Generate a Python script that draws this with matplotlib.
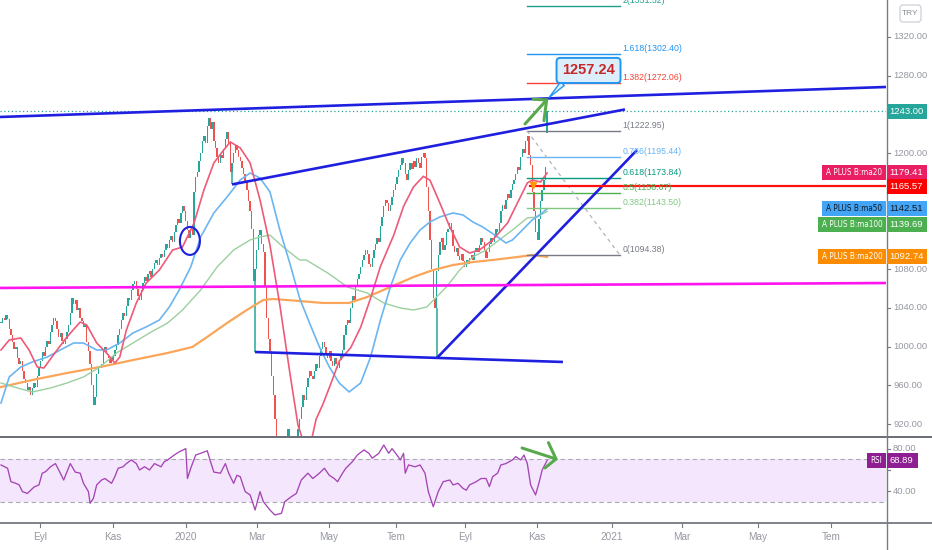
import numpy as np
import matplotlib
matplotlib.use('Agg')
import matplotlib.pyplot as plt
from matplotlib.patches import Rectangle, Ellipse, FancyBboxPatch
from matplotlib.lines import Line2D
from matplotlib.transforms import IdentityTransform
from matplotlib import font_manager as fm

plt.rcParams['font.family'] = ['Liberation Sans', 'DejaVu Sans']

# condensed face for the axis tags, if the system has one
_cond = [f for f in fm.fontManager.ttflist
         if f.name == 'DejaVu Sans' and 'ondensed' in f.fname and 'Bold' not in f.fname
         and 'Oblique' not in f.fname]
TAG_FONT = dict(fontproperties=fm.FontProperties(fname=_cond[0].fname, size=5.9)) if _cond \
    else dict(fontsize=5.8)

# ---------------- data (bar index = trading day) ----------------
closes = [
    1024, 1030, 1027, 1033, 1029, 1018, 1012, 1005, 998, 1000,
    988, 982, 985, 975, 966, 962, 955, 958, 950, 957,
    962, 958, 970, 978, 985, 994, 990, 1000, 1006, 1003,
    1015, 1022, 1030, 1026, 1018, 1010, 1014, 1006, 1003, 1008,
    1015, 1022, 1035, 1050, 1044, 1048, 1038, 1040, 1030, 1026,
    1020, 1022, 1005, 995, 982, 960, 940, 948, 972, 980,
    978, 982, 995, 1000, 992, 988, 983, 986, 990, 996,
    1002, 1012, 1018, 1028, 1035, 1032, 1042, 1050, 1048, 1058,
    1065, 1068, 1060, 1052, 1048, 1058, 1066, 1072, 1068, 1075,
    1078, 1072, 1080, 1086, 1090, 1084, 1092, 1096, 1093, 1100,
    1106, 1102, 1110, 1114, 1108, 1118, 1126, 1132, 1128, 1138,
    1145, 1140, 1130, 1120, 1112, 1122, 1115, 1160, 1175, 1180,
    1192, 1200, 1212, 1218, 1210, 1228, 1236, 1225, 1232, 1212,
    1205, 1196, 1190, 1198, 1195, 1204, 1215, 1222, 1210, 1180,
    1190, 1200, 1208, 1203, 1196, 1192, 1185, 1178, 1170, 1162,
    1150, 1140, 1122, 1068, 1080, 1100, 1115, 1120, 1106, 1098,
    1062, 1030, 1008, 995, 970, 950, 925, 905, 885, 872,
    865, 858, 870, 880, 915, 905, 890, 875, 882, 898,
    915, 925, 938, 950, 945, 958, 968, 975, 970, 966,
    975, 982, 978, 990, 998, 1005, 1000, 992, 988, 995,
    985, 980, 988, 982, 978, 986, 992, 996, 1012, 1022,
    1028, 1024, 1040, 1052, 1048, 1062, 1070, 1075, 1082, 1090,
    1095, 1100, 1096, 1085, 1082, 1092, 1100, 1106, 1112, 1108,
    1125, 1134, 1145, 1152, 1148, 1140, 1146, 1155, 1162, 1168,
    1175, 1182, 1188, 1195, 1190, 1178, 1172, 1182, 1190, 1184,
    1192, 1186, 1195, 1190, 1185, 1196, 1200, 1195, 1165, 1140,
    1110, 1080, 1050, 1040, 1078, 1095, 1108, 1112, 1100, 1105,
    1118, 1122, 1128, 1120, 1104, 1098, 1102, 1094, 1090, 1096,
    1088, 1082, 1090, 1085, 1092, 1095, 1090, 1098, 1102, 1098,
    1105, 1112, 1108, 1100, 1092, 1098, 1106, 1112, 1108, 1115,
    1122, 1118, 1128, 1140, 1146, 1142, 1152, 1158, 1154, 1162,
    1168, 1172, 1178, 1186, 1182, 1196, 1204, 1200, 1212, 1218,
    1198, 1188, 1160, 1140, 1118, 1110, 1132, 1150, 1162, 1172, 1186, 1243,
]
last_open = 1221
spike_bars = [140, 154, 264]
spike_lows = [1168, 994, 989]

ma20_bars = [0, 5, 12, 17, 22, 26, 34, 40, 48, 52, 58, 64, 69, 72, 76, 82, 88, 96, 104, 110,
             117, 123, 129, 135, 139, 145, 151, 157, 163, 169, 175, 180, 184, 188, 191, 195, 200,
             205, 212, 218, 224, 230, 238, 244, 250, 256, 260, 266, 272, 278, 284, 290, 298,
             307, 313, 319, 322, 327, 331]
ma20_vals = [996.5, 1006.8, 1008.9, 996.5, 978.9, 977.9, 996.5, 1010.0, 1025.4, 1022.3, 1003.7,
             993.4, 983.0, 989.2, 1017.2, 1045.1, 1065.7, 1079.2, 1099.8, 1102.9, 1127.7, 1161.9,
             1189.8, 1203.2, 1211.5, 1205.3, 1189.8, 1151.5, 1105.0, 1043.0, 973.7, 918.9, 898.0,
             902.0, 925.0, 940.0, 962.0, 985.0, 999.0, 1020.0, 1050.0, 1083.0, 1115.0, 1145.0,
             1165.0, 1176.0, 1172.0, 1148.4, 1123.6, 1102.9, 1096.7, 1099.8, 1110.2, 1127.7,
             1148.4, 1169.1, 1172.2, 1170.1, 1179.41]

ma50_bars = [0, 5, 12, 19, 28, 36, 44, 50, 58, 64, 72, 80, 88, 96, 102, 108, 115, 121, 129, 137,
             145, 151, 157, 163, 169, 175, 181, 187, 193, 199, 205, 211, 218, 224, 230, 236, 242,
             248, 254, 260, 266, 274, 280, 286, 292, 301, 306, 310, 316, 322, 328, 331]
ma50_vals = [941.7, 968.6, 978.9, 984.1, 989.2, 996.5, 1003.7, 1003.7, 996.5, 996.5, 1003.7,
             1014.1, 1020.3, 1027.5, 1040.9, 1058.5, 1082.3, 1113.3, 1138.1, 1154.6, 1172.2,
             1179.4, 1174.2, 1160.0, 1120.5, 1086.4, 1050.0, 1024.4, 999.6, 978.9, 962.4, 953.1,
             962.4, 989.2, 1027.5, 1061.6, 1089.5, 1107.1, 1120.5, 1128.8, 1134.0, 1138.1, 1136.0,
             1128.8, 1123.6, 1113.3, 1107.1, 1110.2, 1120.5, 1130.9, 1138.1, 1142.51]

ma100_bars = [0, 10, 19, 30, 40, 50, 60, 70, 80, 90, 101, 110, 121, 131, 141, 151, 157, 163, 171,
              181, 185, 198, 210, 222, 232, 242, 250, 258, 264, 270, 278, 286, 294, 302, 310, 319,
              325, 331]
ma100_vals = [962.4, 957.2, 953.1, 957.2, 962.4, 968.6, 978.9, 993.4, 1003.7, 1014.1, 1024.4,
              1037.8, 1058.5, 1082.3, 1099.8, 1110.2, 1113.3, 1115.3, 1102.9, 1089.5, 1089.5,
              1076.1, 1061.6, 1055.4, 1045.1, 1039.9, 1037.8, 1040.9, 1051.3, 1061.6, 1079.2,
              1092.6, 1099.8, 1110.2, 1120.5, 1132.9, 1134.0, 1139.69]

ma200_bars = [0, 19, 40, 60, 80, 101, 116, 125, 137, 149, 159, 165, 181, 195, 211, 222, 236, 250,
              262, 274, 286, 298, 313, 322, 331]
ma200_vals = [958.2, 965.5, 972.7, 978.9, 986.1, 993.4, 999.6, 1010.0, 1024.4, 1037.8, 1048.2,
              1049.2, 1047.1, 1045.1, 1045.1, 1051.3, 1061.6, 1071.9, 1079.2, 1084.3, 1087.4,
              1089.5, 1092.6, 1094.7, 1092.74]

rsi_bars = [0, 4, 6, 9, 11, 13, 16, 18, 20, 23, 25, 27, 30, 33, 35, 38, 40, 42, 45, 48, 50, 53, 54,
            56, 58, 61, 63, 67, 69, 71, 74, 76, 79, 82, 84, 87, 90, 93, 97, 99, 101, 105, 108, 112,
            113, 115, 118, 121, 125, 127, 129, 133, 136, 138, 141, 143, 145, 148, 151, 154, 157,
            159, 163, 166, 170, 172, 176, 179, 182, 186, 189, 193, 196, 199, 202, 204, 207, 209,
            213, 216, 220, 223, 225, 229, 232, 235, 237, 240, 242, 244, 245, 247, 251, 254, 257,
            259, 262, 265, 268, 272, 274, 277, 280, 282, 284, 288, 291, 294, 296, 298, 301, 303,
            306, 310, 312, 315, 317, 319, 321, 324, 326, 328, 331]
rsi_vals = [64.7, 61.6, 49, 47.5, 46, 39.7, 38, 41, 44, 46, 57, 58.4, 63, 66, 60, 50.6, 58.4, 66,
            58, 57, 47.5, 39.7, 28.8, 33.4, 46, 50.6, 52, 47.5, 53.75, 61.6, 63, 66, 69.4, 66, 60,
            63, 60, 66, 63, 67.8, 69.4, 74, 77, 80, 52, 61.6, 74, 75.6, 78, 67.8, 58, 57, 66, 57,
            47.5, 55, 53.75, 39.7, 36.6, 22.5, 39.7, 30.3, 22.5, 17.8, 19.4, 30.3, 35, 38, 50.6,
            57, 52, 57, 61.6, 55, 52, 49, 57, 61.6, 67.8, 74, 78.75, 75.6, 71, 75.6, 83.4, 75.6,
            80, 74, 69.4, 75.6, 57, 64.7, 63, 64.7, 57, 39.7, 25.6, 39.7, 49, 50.6, 46, 47.5,
            42.8, 41, 46, 49, 52, 52, 44.4, 53.75, 57, 64.7, 66, 69.4, 72.5, 69.4, 74, 66, 46,
            36.6, 47.5, 60, 68.89]

xtick_bars = [23.6, 67.9, 112.1, 155.2, 198.8, 239.4, 281.2, 324.8, 370.3, 412.7, 458.8, 503.0]
xtick_labels = ['Eyl', 'Kas', '2020', 'Mar', 'May', 'Tem', 'Eyl', 'Kas', '2021', 'Mar', 'May', 'Tem']
price_ticks = [920, 960, 1000, 1040, 1080, 1120, 1160, 1200, 1240, 1280, 1320]
rsi_ticks = [40, 60, 80]

fib_ratios = ['2', '1.618', '1.382', '1', '0.786', '0.618', '0.5', '0.382', '0']
fib_prices = [1351.52, 1302.40, 1272.06, 1222.95, 1195.44, 1173.84, 1158.67, 1143.50, 1094.38]
fib_colors = ['#1E9E8C', '#2196F3', '#F44336', '#787B86', '#64B5F6', '#089981', '#4CAF50',
              '#81C784', '#787B86']

last_price = 1243.00
hline_price = 1165.57
callout_value = 1257.24
rsi_last = 68.89
ma_names = ['A PLUS B:ma20', 'A PLUS B:ma50', 'A PLUS B:ma100', 'A PLUS B:ma200']
ma_last = [1179.41, 1142.51, 1139.69, 1092.74]

# trend-line drawings: (bar0, price0, bar1, price1)
top_channel = (-0.6, 1237.3, 536.4, 1268.3)
upper_wedge = (140.0, 1167.6, 378.2, 1245.1)
lower_line = (153.9, 994.4, 340.6, 984.1)
rising_line = (264.2, 988.2, 385.5, 1203.2)
magenta_line = (-0.6, 1060.6, 536.4, 1065.7)

# ---------------- figure ----------------
W, H = 932, 550
fig = plt.figure(figsize=(W / 100, H / 100), dpi=100)
fig.patch.set_facecolor('white')


def frac(x0, y0, x1, y1):
    return [x0 / W, 1 - y1 / H, (x1 - x0) / W, (y1 - y0) / H]


XL = (-0.606, 536.4)
ax = fig.add_axes(frac(0, 0, 886, 436))
axr = fig.add_axes(frac(0, 437, 886, 523))
for a in (ax, axr):
    a.set_xlim(*XL)
    a.axis('off')
ax.set_ylim(907.6, 1358.2)
axr.set_ylim(10.3, 90.9)

# candles
c = np.array(closes, dtype=float)
o = np.r_[c[0], c[:-1]]
o[-1] = last_open
xb = np.arange(len(c))
up = c >= o
bottom = np.minimum(o, c)
height = np.maximum(np.abs(c - o), 1.5)
cols = np.where(up, '#26A69A', '#EF5350')
ax.bar(xb, height, bottom=bottom, width=0.85, color=cols, linewidth=0, zorder=2)
for b, lo in zip(spike_bars, spike_lows):
    ax.vlines(b, lo, min(o[b], c[b]), color='#26A69A', lw=1.1, zorder=2)

# moving averages
ax.plot(ma200_bars, ma200_vals, color='#F9A65A', lw=1.6, zorder=3)
ax.plot(ma100_bars, ma100_vals, color='#9CCF9E', lw=1.0, zorder=3)
ax.plot(ma50_bars, ma50_vals, color='#6BB6F2', lw=1.2, zorder=3)
ax.plot(ma20_bars, ma20_vals, color='#EE5A78', lw=1.2, zorder=3)

# last price dotted line
ax.axhline(last_price, color='#26A69A', ls=(0, (1, 2)), lw=0.9, zorder=3)

BLUE = '#1F1FE0'
for ln in (top_channel, upper_wedge, lower_line, rising_line):
    ax.plot([ln[0], ln[2]], [ln[1], ln[3]], color=BLUE, lw=1.9, zorder=5, solid_capstyle='butt')
ax.plot([magenta_line[0], magenta_line[2]], [magenta_line[1], magenta_line[3]],
        color='#FF14F0', lw=1.9, zorder=5)

# circle
ax.add_patch(Ellipse((114.5, 1109.2), 12.1, 28.9, fill=False, ec=BLUE, lw=1.5, zorder=6))

# fib retracement
fx0, fx1 = 318.8, 375.2
for r, p, col in zip(fib_ratios, fib_prices, fib_colors):
    ax.plot([fx0, fx1], [p, p], color=col, lw=1.0, zorder=4)
    ax.annotate(f'{r}({p:.2f})', (fx1 + 1.3, p), xytext=(0, 2.2), textcoords='offset points',
                ha='left', va='baseline', fontsize=6.3, color=col, zorder=6)
ax.plot([fx0, fx1], [fib_prices[3], fib_prices[8]], color='#B2B5BE', lw=0.9,
        ls=(0, (3, 3)), zorder=4)

# red horizontal line
ax.plot([320.6, XL[1]], [hline_price, hline_price], color='#FF1010', lw=1.6, zorder=5)
# orange signal marker
ax.plot([322.4], [1166.5], marker='v', ms=4, color='#FF9800', zorder=6, ls='none')

# green arrow (price panel)
GREEN = '#58AA4C'
ax.plot([317.6, 330.7], [1230.1, 1254.9], color=GREEN, lw=2.2, solid_capstyle='round', zorder=7)
ax.plot([322.6, 330.7, 329.1], [1255.6, 1254.9, 1233.5], color=GREEN, lw=2.2,
        solid_capstyle='round', solid_joinstyle='miter', zorder=7)

# callout
ax.annotate(f'{callout_value:.2f}', xy=(332.1, callout_value), xytext=(356.1, 1285.4),
            ha='center', va='center', fontsize=10.5, fontweight='bold', color='#C62828',
            bbox=dict(boxstyle='round,pad=0.38,rounding_size=0.25', fc='#DDEEFB', ec='#2196F3', lw=1.4),
            arrowprops=dict(arrowstyle='wedge,tail_width=0.35,shrink_factor=0.5', fc='#DDEEFB',
                            ec='#2196F3', lw=1.0, relpos=(0.12, 0.0), shrinkA=0, shrinkB=0),
            zorder=8)

# RSI panel
axr.axhspan(30, 70, color='#F4E6FC', zorder=1, lw=0)
for lvl in (30, 70):
    axr.axhline(lvl, color='#A9ABB3', lw=0.8, ls=(0, (4, 3)), zorder=2)
axr.plot(rsi_bars, rsi_vals, color='#A544B5', lw=0.95, zorder=3)
axr.plot([315.8, 336.4], [80.6, 70.3], color=GREEN, lw=2.2, solid_capstyle='round', zorder=5)
axr.plot([331.8, 336.4, 329.7], [85.6, 70.3, 61.9], color=GREEN, lw=2.2,
         solid_capstyle='round', zorder=5)

# ---------------- pixel-space decorations ----------------
ID = IdentityTransform()


def ypx(axis, v):
    return H - axis.transData.transform((0, v))[1]


def line_px(x0, y0, x1, y1, color, lw, z=10):
    fig.add_artist(Line2D([x0, x1], [H - y0, H - y1], transform=ID, color=color, lw=lw, zorder=z))


def rect_px(x0, y0, x1, y1, fc, z=20):
    fig.add_artist(Rectangle((x0, H - y1), x1 - x0, y1 - y0, transform=ID, fc=fc, ec='none',
                             lw=0, zorder=z))


def text_px(x, y, s, z=21, **kw):
    fig.text(x, H - y, s, transform=ID, zorder=z, **kw)


AX_COL = '#5E616B'
LBL_COL = '#9598A1'
FS = 6.8
line_px(0, 436.5, W, 436.5, AX_COL, 1.3)
line_px(0, 523, W, 523, AX_COL, 1.1)
line_px(886.5, 0, 886.5, H, '#787B86', 1.0)

# tags: (y_px, value, colour, name, left_px, text colour, right_px)
y50 = ypx(ax, ma_last[1])
tags = [
    (ypx(ax, last_price), last_price, '#26A69A', None, None, 'white', 927),
    (ypx(ax, ma_last[3]), ma_last[3], '#FB8C00', ma_names[3], 818, 'white', 927),
    (y50 + 16, ma_last[2], '#4CAF50', ma_names[2], 818, 'white', 927),
    (y50, ma_last[1], '#42A5F5', ma_names[1], 822, '#131722', 927),
    (ypx(ax, ma_last[0]), ma_last[0], '#E91E63', ma_names[0], 822, 'white', 927),
    (ypx(ax, hline_price), hline_price, '#FF0000', None, None, 'white', 927),
    (ypx(axr, rsi_last), rsi_last, '#8E1E91', 'RSI', 867, 'white', 918),
]
tag_ys = [t[0] for t in tags]


def covered(y):
    return any(abs(y - ty) < 11 for ty in tag_ys)


for p in price_ticks:
    y = ypx(ax, p)
    if 2 < y < 434:
        line_px(887, y, 890, y, '#787B86', 0.8)
        if not covered(y):
            text_px(893, y, f'{p:.2f}', ha='left', va='center', fontsize=FS, color=LBL_COL)
for v in rsi_ticks:
    y = ypx(axr, v)
    line_px(887, y, 890, y, '#787B86', 0.8)
    if not covered(y):
        text_px(893, y, f'{v:.2f}', ha='left', va='center', fontsize=FS, color=LBL_COL)

for b, lab in zip(xtick_bars, xtick_labels):
    xp = ax.transData.transform((b, 0))[0]
    line_px(xp, 523, xp, 527, '#787B86', 0.8)
    text_px(xp, 537, lab, ha='center', va='center', fontsize=7.2, color=LBL_COL)

# TRY badge
fig.add_artist(FancyBboxPatch((900, H - 22), 21, 17, boxstyle='round,pad=0,rounding_size=3',
                              transform=ID, fc='white', ec='#D1D4DC', lw=1.0, zorder=20))
text_px(910.5, 13.5, 'TRY', ha='center', va='center', fontsize=6.0, color='#8A8D96')

for yc, val, col, name, left, tcol, vright in tags:
    h = 15
    rect_px(887, yc - h / 2, vright, yc + h / 2, col)
    text_px(889.5, yc, f'{val:.2f}', ha='left', va='center', fontsize=FS, color=tcol)
    if name is not None:
        rect_px(left, yc - h / 2, 886, yc + h / 2, col)
        text_px((left + 886) / 2, yc, name, ha='center', va='center', color=tcol, **TAG_FONT)

fig.savefig('out.png', dpi=100, facecolor='white')
